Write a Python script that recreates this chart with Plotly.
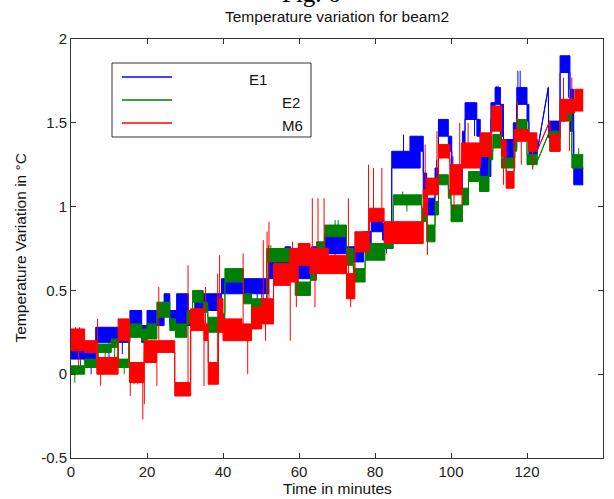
import plotly.graph_objects as go

TITLE = "Temperature variation for beam2"
FIG_LABEL = "Fig. 6"
X_LABEL = "Time in minutes"
Y_LABEL = "Temperature Variation in °C"
SERIES_NAMES = ["E1", "E2", "M6"]
SERIES_COLORS = ["#0000ff", "#008000", "#ff0000"]
X_TICKS = [0, 20, 40, 60, 80, 100, 120, 140]
Y_TICKS = [-0.5, 0, 0.5, 1, 1.5, 2]
Y_TICK_LABELS = ["-0.5", "0", "0.5", "1", "1.5", "2"]

# Each band: (start minute, end minute, lower value, upper value) — the sensor
# flickers between two quantised levels, which shows as a thick band.
E1_BANDS = [
    (0.0, 3.5, 0.09, 0.19), (3.5, 6.5, 0.08, 0.13), (6.5, 15.5, 0.19, 0.28),
    (15.5, 18.6, 0.29, 0.38), (18.6, 20.0, 0.19, 0.29), (20.0, 24.5, 0.29, 0.38),
    (24.5, 26.0, 0.38, 0.48), (26.0, 27.8, 0.29, 0.38), (27.8, 30.9, 0.29, 0.48),
    (30.9, 32.6, 0.29, 0.38), (32.6, 39.6, 0.38, 0.48), (39.6, 52.0, 0.48, 0.57),
    (52.0, 56.3, 0.57, 0.67), (56.3, 57.8, 0.63, 0.76), (57.8, 63.3, 0.57, 0.67),
    (63.3, 66.8, 0.67, 0.76), (66.8, 72.5, 0.72, 0.84), (72.5, 77.0, 0.67, 0.76),
    (77.0, 79.0, 0.76, 0.85), (79.0, 82.0, 0.85, 0.91), (82.0, 84.4, 0.80, 0.90),
    (84.4, 89.2, 1.23, 1.33), (89.2, 91.9, 1.23, 1.42), (91.9, 92.7, 1.33, 1.42),
    (92.7, 93.6, 1.05, 1.20), (93.6, 95.8, 0.95, 1.05), (95.8, 96.7, 1.12, 1.23),
    (96.7, 99.3, 1.42, 1.52), (99.3, 100.2, 1.33, 1.42), (100.2, 103.0, 1.08, 1.23),
    (103.0, 103.7, 1.30, 1.45), (103.7, 106.8, 1.52, 1.62), (106.8, 107.7, 1.42, 1.52),
    (107.7, 110.5, 1.18, 1.33), (110.5, 111.6, 1.52, 1.62), (111.6, 113.0, 1.61, 1.71),
    (113.0, 113.8, 1.42, 1.61), (113.8, 116.4, 1.26, 1.40), (116.4, 117.3, 1.35, 1.50),
    (117.3, 120.0, 1.61, 1.71), (120.0, 120.5, 1.51, 1.61), (120.5, 122.7, 1.31, 1.40),
    (122.7, 122.7, 1.33, 1.33), (125.6, 125.6, 1.71, 1.71), (125.7, 128.7, 1.41, 1.51),
    (128.7, 131.3, 1.80, 1.90), (131.3, 132.3, 1.45, 1.70), (132.3, 134.8, 1.13, 1.23),
]
E2_BANDS = [
    (0.0, 3.6, 0.00, 0.05), (3.6, 7.1, 0.04, 0.09), (7.1, 10.6, 0.13, 0.18),
    (10.6, 12.4, 0.16, 0.21), (12.4, 15.2, 0.04, 0.09), (15.2, 18.6, 0.22, 0.30),
    (18.6, 20.0, 0.20, 0.27), (20.0, 22.6, 0.21, 0.30), (22.6, 26.0, 0.34, 0.43),
    (26.0, 27.5, 0.26, 0.33), (27.5, 30.5, 0.22, 0.30), (30.5, 32.0, 0.30, 0.38),
    (32.0, 34.8, 0.43, 0.50), (34.8, 36.0, 0.37, 0.43), (36.0, 39.0, 0.25, 0.34),
    (39.0, 40.5, 0.30, 0.36), (40.5, 45.4, 0.55, 0.63), (45.4, 47.5, 0.42, 0.48),
    (47.5, 51.5, 0.40, 0.45), (51.5, 57.6, 0.67, 0.75), (57.6, 59.0, 0.60, 0.70),
    (59.0, 63.0, 0.47, 0.55), (63.0, 64.6, 0.56, 0.67), (64.6, 66.8, 0.71, 0.79),
    (66.8, 72.5, 0.82, 0.89), (72.5, 74.3, 0.65, 0.75), (74.3, 77.4, 0.55, 0.63),
    (77.4, 82.6, 0.68, 0.78), (82.6, 84.8, 0.75, 0.80), (84.8, 92.3, 1.01, 1.07),
    (92.3, 93.6, 0.91, 0.99), (93.6, 95.8, 0.79, 0.89), (95.8, 96.7, 0.95, 1.03),
    (96.7, 99.3, 1.13, 1.19), (99.3, 100.0, 1.05, 1.10), (100.0, 103.0, 0.91, 1.01),
    (103.0, 104.6, 1.01, 1.11), (104.6, 107.5, 1.15, 1.21), (107.5, 110.0, 1.09, 1.18),
    (110.0, 111.0, 1.28, 1.33), (111.0, 113.3, 1.35, 1.43), (113.3, 116.8, 1.23, 1.29),
    (116.8, 117.3, 1.33, 1.40), (117.3, 120.0, 1.42, 1.52), (120.0, 122.7, 1.25, 1.31),
    (122.7, 122.7, 1.27, 1.27), (125.9, 125.9, 1.45, 1.45), (126.0, 128.7, 1.33, 1.45),
    (128.7, 131.8, 1.51, 1.63), (131.8, 134.8, 1.23, 1.31),
]
M6_BANDS = [
    (0.0, 3.6, 0.14, 0.27), (3.6, 6.8, 0.13, 0.20), (6.8, 12.4, 0.00, 0.10),
    (12.4, 15.4, 0.20, 0.33), (15.4, 19.2, -0.05, 0.07), (19.2, 22.5, 0.07, 0.20),
    (22.5, 27.3, 0.13, 0.20), (27.3, 31.5, -0.13, -0.05), (31.5, 35.0, 0.26, 0.39),
    (35.0, 36.1, 0.20, 0.30), (36.1, 38.8, -0.06, 0.07), (38.8, 40.0, 0.25, 0.45),
    (40.0, 45.0, 0.20, 0.33), (45.0, 47.5, 0.20, 0.30), (47.5, 50.2, 0.27, 0.40),
    (50.2, 53.3, 0.30, 0.45), (53.3, 57.6, 0.53, 0.66), (57.6, 59.8, 0.55, 0.75),
    (59.8, 62.9, 0.65, 0.78), (62.9, 67.7, 0.60, 0.75), (67.7, 72.5, 0.60, 0.71),
    (72.5, 74.7, 0.45, 0.60), (74.7, 78.5, 0.73, 0.85), (78.5, 82.4, 0.91, 0.99),
    (82.4, 92.7, 0.78, 0.91), (92.7, 93.6, 0.95, 1.10), (93.6, 96.7, 1.07, 1.17),
    (96.7, 99.7, 1.29, 1.37), (99.7, 102.8, 1.07, 1.25), (102.8, 107.7, 1.23, 1.38),
    (107.7, 110.7, 1.30, 1.44), (110.7, 113.3, 1.45, 1.60), (113.3, 114.5, 1.30, 1.40),
    (114.5, 116.6, 1.11, 1.21), (116.6, 120.4, 1.39, 1.46), (120.4, 122.6, 1.33, 1.44),
    (122.6, 122.6, 1.33, 1.33), (126.0, 126.0, 1.51, 1.51), (126.1, 128.7, 1.33, 1.43),
    (128.7, 130.4, 1.51, 1.64), (130.4, 132.6, 1.56, 1.64), (132.6, 134.8, 1.57, 1.70),
]

# Isolated excursions: (minute, value reached)
E1_SPIKES = [
    (1.2, 0.28), (2.2, 0.28), (5.3, 0.00), (10.0, 0.10), (13.5, 0.12), (21.0, 0.22),
    (49.0, 0.44), (50.2, 0.44), (55.0, 0.73), (69.5, 0.67), (78.5, 0.70), (83.0, 0.72),
    (87.5, 1.43), (96.2, 1.28), (100.5, 1.30), (106.2, 1.42), (111.9, 1.72), (112.4, 1.72),
    (117.6, 1.81), (118.2, 1.81), (127.2, 1.35), (130.9, 1.65),
]
E2_SPIKES = [
    (1.0, -0.05), (2.5, 0.09), (9.0, 0.02), (11.5, 0.03), (14.0, 0.00), (32.5, 0.33),
    (52.0, 0.77), (52.6, 0.77), (69.5, 0.92), (70.3, 0.92), (87.3, 1.09), (88.4, 0.97),
    (121.5, 1.22), (133.6, 1.35),
]
M6_SPIKES = [
    (2.0, 0.05), (7.0, 0.33), (7.8, -0.07), (15.6, -0.13), (16.6, -0.06), (17.6, -0.06),
    (18.9, -0.27), (19.3, -0.18), (22.6, -0.07), (23.1, 0.52), (30.8, 0.65), (35.0, -0.07),
    (35.4, 0.52), (38.6, 0.60), (39.1, 0.71), (45.3, 0.72), (46.5, 0.00), (50.6, 0.80),
    (51.2, 0.20), (51.6, 0.85), (52.1, 0.91), (57.7, 0.20), (58.3, 0.79), (59.3, 0.40),
    (63.5, 1.05), (64.2, 0.40), (65.0, 1.05), (66.6, 1.05), (73.0, 1.05), (73.6, 0.40),
    (78.3, 1.25), (79.6, 1.23), (81.8, 1.23), (93.2, 1.37), (93.8, 0.71), (96.3, 1.45),
    (100.8, 0.98), (102.3, 1.50), (102.9, 1.00), (104.5, 1.50), (113.8, 1.13), (117.5, 1.63),
    (118.5, 1.25), (121.5, 1.23), (129.6, 1.77), (131.2, 1.33), (131.8, 1.77),
]

ALL_BANDS = [E1_BANDS, E2_BANDS, M6_BANDS]
ALL_SPIKES = [E1_SPIKES, E2_SPIKES, M6_SPIKES]

FONT = "Liberation Sans, Arial, Helvetica, sans-serif"
W, H = 614, 499
ML, MR, MT, MB = 71, 11, 39, 41
PW, PH = W - ML - MR, H - MT - MB


def px(x):
    return (x - ML) / PW


def py(y):
    return (H - MB - y) / PH


def band_xy(bands):
    xs, lo, hi = [], [], []
    for t0, t1, a, b in bands:
        xs += [t0, t1]
        lo += [a, a]
        hi += [b, b]
    return xs, lo, hi


def base_at(bands, t):
    for t0, t1, a, b in bands:
        if t0 <= t <= t1:
            return (a + b) / 2
    near = min(bands, key=lambda s: min(abs(t - s[0]), abs(t - s[1])))
    return (near[2] + near[3]) / 2


fig = go.Figure()
for name, color, bands, spikes in zip(SERIES_NAMES, SERIES_COLORS, ALL_BANDS, ALL_SPIKES):
    xs, lo, hi = band_xy(bands)
    fig.add_trace(go.Scatter(x=xs, y=lo, mode="lines", line=dict(color=color, width=1),
                             name=name, showlegend=False, hoverinfo="skip"))
    fig.add_trace(go.Scatter(x=xs, y=hi, mode="lines", line=dict(color=color, width=1),
                             fill="tonexty", fillcolor=color, name=name, showlegend=False))
    sx, sy = [], []
    for t, v in spikes:
        sx += [t, t, None]
        sy += [base_at(bands, t), v, None]
    fig.add_trace(go.Scatter(x=sx, y=sy, mode="lines", line=dict(color=color, width=1),
                             name=name, showlegend=False, hoverinfo="skip"))

axis_common = dict(showline=True, linecolor="#333", linewidth=1, mirror="ticks",
                   ticks="inside", ticklen=5, tickwidth=1, tickcolor="#333",
                   showgrid=False, zeroline=False, automargin=False,
                   tickfont=dict(family=FONT, size=15, color="#222"))
fig.update_xaxes(range=[0, 140], tickvals=X_TICKS, **axis_common)
fig.update_yaxes(range=[-0.5, 2], tickvals=Y_TICKS, ticktext=Y_TICK_LABELS, **axis_common)

shapes = [dict(type="rect", xref="paper", yref="paper", x0=px(112), x1=px(311),
               y0=py(137), y1=py(63), line=dict(color="#333", width=1), fillcolor="white")]
annotations = []
legend_rows = [(77, 247), (100, 280), (123, 280)]
for (ly, tx), name, color in zip(legend_rows, SERIES_NAMES, SERIES_COLORS):
    shapes.append(dict(type="line", xref="paper", yref="paper", x0=px(122), x1=px(172),
                       y0=py(ly), y1=py(ly), line=dict(color=color, width=1.5)))
    annotations.append(dict(text=name, xref="paper", yref="paper", x=px(tx), y=py(ly + 2),
                            xanchor="left", yanchor="middle", showarrow=False,
                            font=dict(family=FONT, size=15, color="#111")))

annotations += [
    dict(text=TITLE, xref="paper", yref="paper", x=0.5, y=py(16), xanchor="center",
         yanchor="middle", showarrow=False, font=dict(family=FONT, size=15.5, color="#111")),
    dict(text=X_LABEL, xref="paper", yref="paper", x=0.5, y=py(488), xanchor="center",
         yanchor="middle", showarrow=False, font=dict(family=FONT, size=15.5, color="#111")),
    dict(text=Y_LABEL, xref="paper", yref="paper", x=px(20), y=0.5, xanchor="center",
         yanchor="middle", textangle=-90, showarrow=False,
         font=dict(family=FONT, size=15.5, color="#111")),
    dict(text=FIG_LABEL, xref="paper", yref="paper", x=px(311), y=py(9), xanchor="center",
         yanchor="bottom", showarrow=False,
         font=dict(family="Liberation Serif, Times New Roman, serif", size=25, color="#000")),
]

fig.update_layout(width=W, height=H, margin=dict(l=ML, r=MR, t=MT, b=MB, autoexpand=False),
                  paper_bgcolor="white", plot_bgcolor="white", showlegend=False,
                  shapes=shapes, annotations=annotations, font=dict(family=FONT))

fig.write_html("out.html", config={"displayModeBar": False},
               post_script="document.body.style.margin='0';document.body.style.overflow='hidden';")
